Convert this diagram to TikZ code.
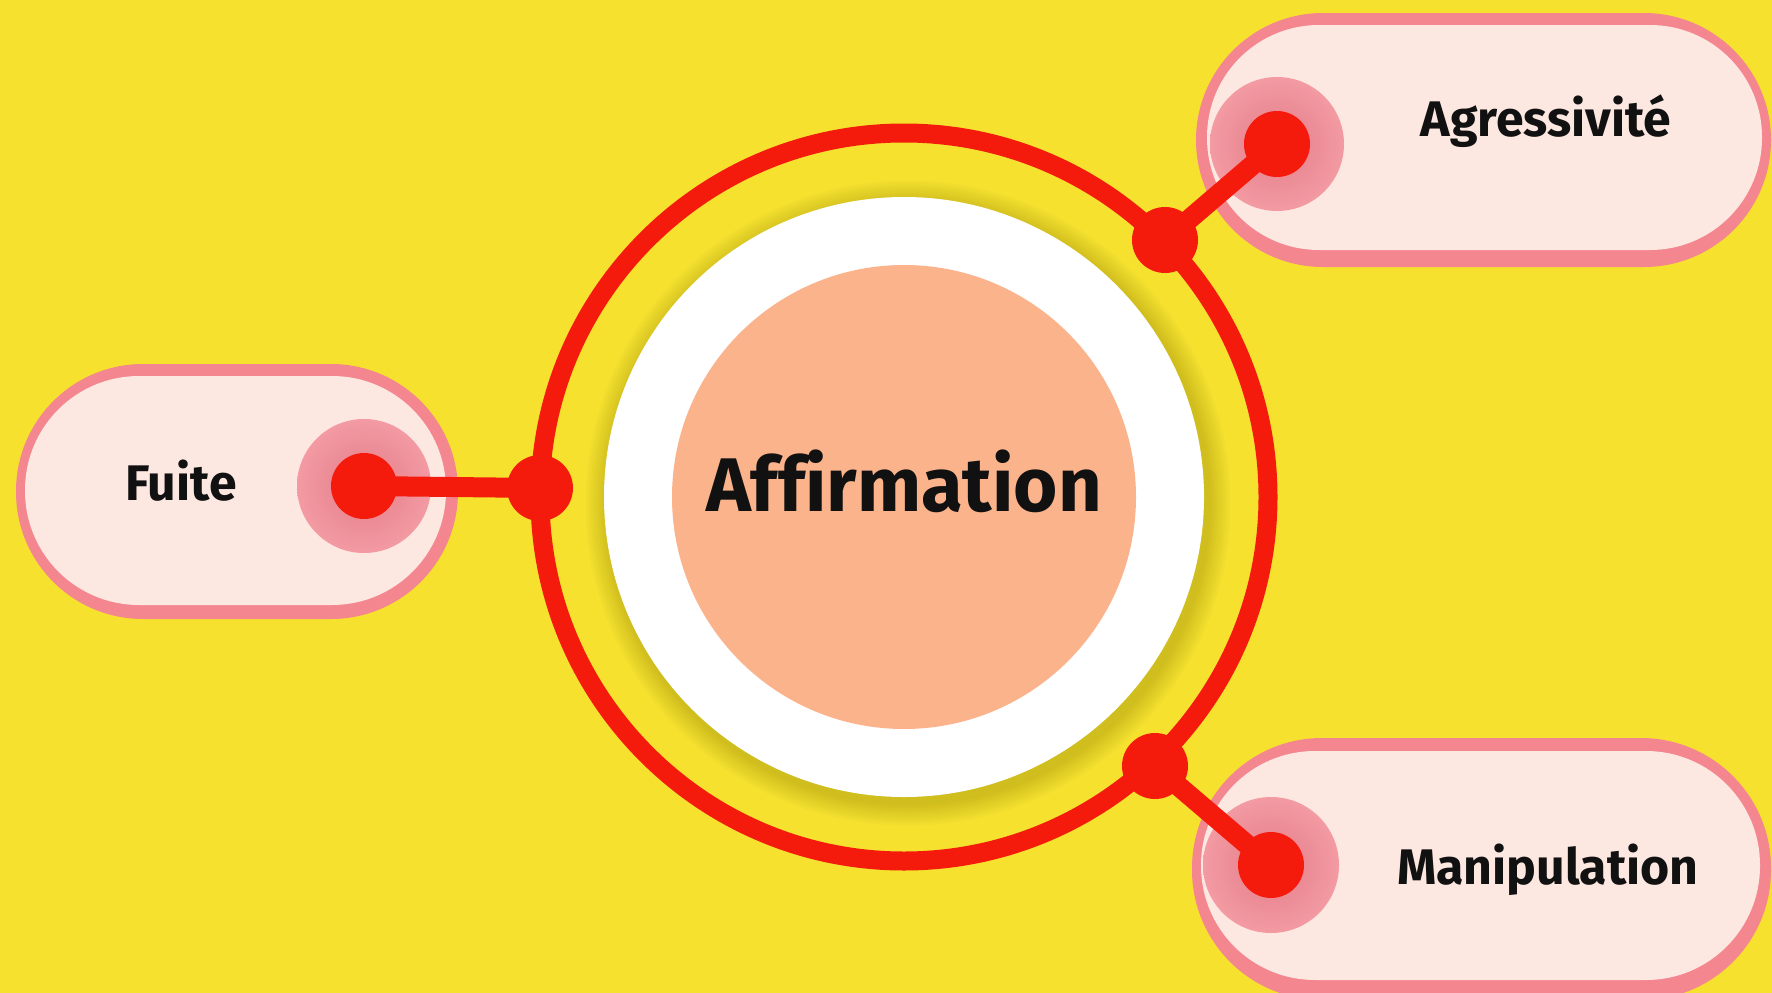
\documentclass[tikz,border=0pt]{standalone}
\usepackage{fontspec}
\setmainfont{Fira Sans}[Ligatures=CommonOff]
\usetikzlibrary{calc}
\definecolor{bgyellow}{HTML}{F6E12F}
\definecolor{ringred}{HTML}{F51B0C}
\definecolor{pillpink}{HTML}{F4868F}
\definecolor{pilllight}{HTML}{FDE7E1}
\definecolor{halopinkin}{HTML}{E27C87}
\definecolor{halopinkout}{HTML}{F39AA3}
\definecolor{salmon}{HTML}{FBB38C}
\definecolor{shadowcol}{HTML}{6E6400}
\definecolor{textcol}{HTML}{111111}
\tikzset{
  pillouter/.style={fill=pillpink, rounded corners=#1},
  pillinner/.style={fill=pilllight, rounded corners=#1},
  halo/.style={circle, inner sep=0pt, minimum size=#1, inner color=halopinkin, outer color=halopinkout},
  reddot/.style={circle, inner sep=0pt, fill=ringred, minimum size=#1},
  connector/.style={draw=ringred, line width=20pt},
  label/.style={font=\fontsize{50}{60}\selectfont\bfseries, text=textcol, anchor=base, inner sep=0pt},
}
\begin{document}
\begin{tikzpicture}[x=1pt,y=-1pt]
\useasboundingbox (0,0) rectangle (1772,993);
\fill[bgyellow] (0,0) rectangle (1772,993);
% centre
\coordinate (c) at (904,497);
% shadow around white disk
\foreach \i in {1,...,9}{
  \fill[shadowcol, opacity=0.03] ($(c)+(4,6)$) circle[radius={300pt+\i*2.5pt}];
}
\fill[white] (c) circle[radius=300pt];
\node[circle, fill=salmon, minimum size=464pt, inner sep=0pt] (core) at (c) {};
\node[font=\fontsize{76}{90}\selectfont\bfseries, text=textcol, anchor=base, inner sep=0pt] (affl) at (904,511) {Affirmation};
% ring
\draw[ringred, line width=19pt] (c) circle[radius=364pt];
% pills
\fill[pillouter=127pt] (1196,13) rectangle (1771,267);
\fill[pillinner=112pt] (1207,25) rectangle (1762,250);
\fill[pillouter=127pt] (16,364) rectangle (458,619);
\fill[pillinner=114pt] (25,376) rectangle (446,605);
\fill[pillouter=130pt] (1192,738) rectangle (1771,1000);
\fill[pillinner=114pt] (1201,751) rectangle (1760,980);
% halos
\node[halo=134pt] (ahalo) at (1277,144) {};
\node[halo=134pt] (fhalo) at (364,486) {};
\node[halo=136pt] (mhalo) at (1271,865) {};
% junctions and dots
\node[reddot=66pt] (ajun) at (1165,240) {};
\node[reddot=66pt] (fjun) at (540,488) {};
\node[reddot=66pt] (mjun) at (1155,766) {};
\node[reddot=66pt] (adot) at (1277,144) {};
\node[reddot=66pt] (fdot) at (364,486) {};
\node[reddot=66pt] (mdot) at (1271,865) {};
\draw[connector] (adot.center) -- (ajun.center);
\draw[connector] (fdot.center) -- (fjun.center);
\draw[connector] (mdot.center) -- (mjun.center);
% labels
\node[label] (alab) at (1546,136) {Agressivité};
\node[label] (flab) at (181,500) {Fuite};
\node[label] (mlab) at (1548,884) {Manipulation};
\end{tikzpicture}
\end{document}
